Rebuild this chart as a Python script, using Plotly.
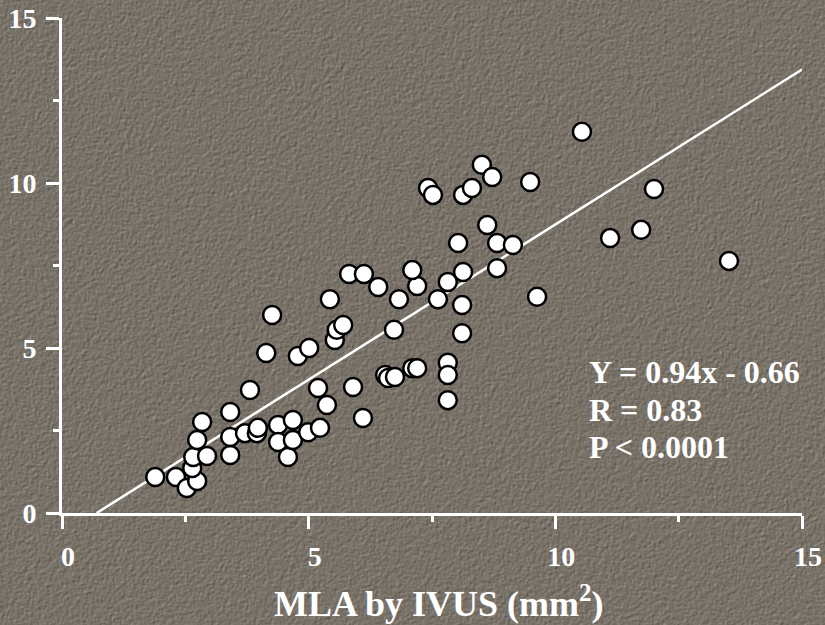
import numpy as np
import zlib, struct, base64
import plotly.graph_objects as go

# ---- data ----
mla_ivus = [1.89, 2.31, 2.53, 2.74, 2.64, 2.66, 2.94, 2.74, 2.84, 3.41, 3.41, 3.41, 3.81, 3.71,
            3.95, 3.97, 4.38, 4.38, 4.58, 4.68, 4.68, 4.99, 5.23, 5.19, 5.37, 4.26, 4.14, 4.78,
            5.01, 5.43, 5.53, 5.57, 5.70, 5.82, 6.12, 5.90, 6.10, 6.41, 6.83, 6.73, 7.20, 7.10,
            7.62, 8.11, 8.11, 6.55, 6.61, 6.75, 7.10, 7.20, 7.82, 7.82, 7.82, 7.82, 8.51, 8.72,
            7.42, 7.52, 8.13, 8.31, 9.49, 8.62, 8.03, 8.82, 9.14, 8.82, 8.13, 9.63, 10.54, 11.11,
            11.74, 12.00, 13.52]
y_vals = [1.09, 1.09, 0.76, 0.97, 1.36, 1.70, 1.73, 2.21, 2.76, 3.06, 1.76, 2.30, 3.73, 2.42,
          2.42, 2.58, 2.67, 2.15, 1.70, 2.21, 2.82, 2.45, 2.58, 3.79, 3.27, 6.00, 4.85, 4.76,
          5.00, 6.48, 5.24, 5.55, 5.70, 7.24, 7.24, 3.82, 2.88, 6.85, 6.48, 5.55, 6.88, 7.36,
          6.48, 6.30, 5.45, 4.18, 4.09, 4.12, 4.39, 4.39, 4.55, 4.18, 3.42, 7.00, 10.55, 10.18,
          9.85, 9.64, 9.64, 9.85, 10.03, 8.73, 8.18, 8.18, 8.12, 7.42, 7.30, 6.55, 11.55, 8.33,
          8.58, 9.82, 7.64]
slope = 0.94
intercept = -0.66
stats_lines = ["Y = 0.94x - 0.66", "R = 0.83", "P < 0.0001"]
tick_vals = [0, 5, 10, 15]
x_title = "MLA by IVUS (mm<sup>2</sup>)"

# ---- textured background image ----
W, H = 825, 625
rng = np.random.default_rng(7)
n = rng.standard_normal((H, W))
for _ in range(2):
    n = (n + np.roll(n, 1, 0) + np.roll(n, -1, 0) + np.roll(n, 1, 1) + np.roll(n, -1, 1)) / 5
e = n - np.roll(np.roll(n, 1, 0), 1, 1)
e = e / e.std()
base = np.array([121, 114, 105], dtype=float)
img = np.clip(base + e[..., None] * 8, 0, 255).astype(np.uint8)

def png_bytes(a):
    h, w, _ = a.shape
    raw = b"".join(b"\x00" + a[i].tobytes() for i in range(h))
    def chunk(t, d):
        c = struct.pack(">I", len(d)) + t + d
        return c + struct.pack(">I", zlib.crc32(t + d) & 0xffffffff)
    return (b"\x89PNG\r\n\x1a\n" + chunk(b"IHDR", struct.pack(">IIBBBBB", w, h, 8, 2, 0, 0, 0))
            + chunk(b"IDAT", zlib.compress(raw, 9)) + chunk(b"IEND", b""))

uri = "data:image/png;base64," + base64.b64encode(png_bytes(img)).decode()

L, R, T, B = 62, 23, 18, 112
pw, ph = W - L - R, H - T - B

fig = go.Figure()
x0 = -intercept / slope
fig.add_trace(go.Scatter(x=[x0, 15], y=[slope * x0 + intercept, slope * 15 + intercept],
                         mode="lines", line=dict(color="white", width=2.5),
                         hoverinfo="skip", showlegend=False))
fig.add_trace(go.Scatter(x=mla_ivus, y=y_vals, mode="markers",
                         marker=dict(size=18, color="white", line=dict(color="black", width=2.5)),
                         showlegend=False, cliponaxis=False))

font = dict(family="Liberation Serif, Times New Roman, serif", color="white", weight="bold")
axis_common = dict(range=[0, 15], tickvals=tick_vals, showline=True, linecolor="white", linewidth=3,
                   ticks="outside", ticklen=13, tickwidth=3, tickcolor="white",
                   showgrid=False, zeroline=False, automargin=False,
                   tickfont=dict(size=28, **font),
                   minor=dict(dtick=2.5, ticks="outside", ticklen=6, tickwidth=3,
                              tickcolor="white", showgrid=False))
fig.update_xaxes(**axis_common, ticklabelstandoff=3, ticklabelshift=6)
fig.update_yaxes(**axis_common, ticklabelstandoff=4)

for i, line in enumerate(stats_lines):
    fig.add_annotation(x=(587 - L) / pw, y=(H - B - (372 + 37.5 * i)) / ph, xref="paper", yref="paper",
                       text=line, showarrow=False, xanchor="left", yanchor="middle",
                       font=dict(size=32, **font))
fig.add_annotation(x=(439 - L) / pw, y=-(601 - (H - B)) / ph, xref="paper", yref="paper",
                   text=x_title, showarrow=False, xanchor="center", yanchor="middle",
                   font=dict(size=36, **font))

fig.add_layout_image(dict(source=uri, xref="paper", yref="paper", x=-L / pw, y=1 + T / ph,
                          sizex=W / pw, sizey=H / ph, xanchor="left", yanchor="top",
                          sizing="stretch", layer="below"))

fig.update_layout(width=W, height=H, margin=dict(l=L, r=R, t=T, b=B),
                  paper_bgcolor="rgb(121,114,105)", plot_bgcolor="rgba(0,0,0,0)")
fig.write_html("out.html", config={"displayModeBar": False},
               post_script="document.body.style.margin='0';document.body.style.overflow='hidden';"
                           "document.body.style.background='rgb(121,114,105)';")
